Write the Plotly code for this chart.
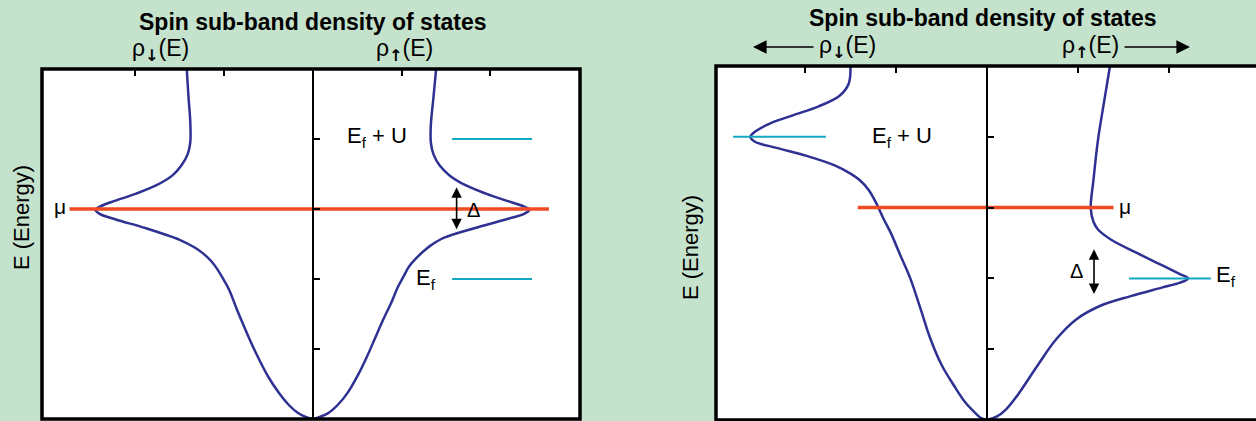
import plotly.graph_objects as go

# ---- data (rho in arbitrary units, E in tick units) ----
# left panel: both peaks sit at mu
L_down_E   = [5.01, 4.60, 4.25, 3.95, 3.78, 3.62, 3.48, 3.34, 3.22, 3.12, 3.05, 2.99, 2.93, 2.85, 2.73, 2.56, 2.45, 2.37, 2.25, 2.13, 1.98, 1.84, 1.55, 1.31, 1.05, 0.84, 0.60, 0.37, 0.20, 0.09, 0.03, 0.0]
L_down_rho = [1.42, 1.40, 1.38, 1.38, 1.41, 1.48, 1.58, 1.76, 1.99, 2.22, 2.37, 2.45, 2.40, 2.22, 1.89, 1.50, 1.33, 1.24, 1.14, 1.07, 1.00, 0.94, 0.85, 0.77, 0.68, 0.60, 0.50, 0.38, 0.27, 0.17, 0.08, 0.0]
L_up_E     = [5.01, 4.60, 4.20, 3.95, 3.78, 3.62, 3.48, 3.34, 3.22, 3.12, 3.05, 2.99, 2.93, 2.86, 2.74, 2.59, 2.48, 2.41, 2.29, 2.17, 2.03, 1.89, 1.65, 1.41, 1.15, 0.89, 0.63, 0.37, 0.20, 0.08, 0.03, 0.0]
L_up_rho   = [1.39, 1.36, 1.33, 1.33, 1.36, 1.43, 1.54, 1.72, 1.95, 2.18, 2.35, 2.44, 2.38, 2.20, 1.86, 1.48, 1.33, 1.26, 1.16, 1.08, 1.02, 0.96, 0.88, 0.79, 0.70, 0.61, 0.51, 0.39, 0.28, 0.17, 0.08, 0.0]

# right panel: spin-down peak at Ef+U, spin-up peak at Ef
R_down_E   = [4.99, 4.75, 4.58, 4.43, 4.30, 4.18, 4.07, 4.00, 3.93, 3.84, 3.73, 3.60, 3.48, 3.39, 3.25, 3.07, 2.85, 2.65, 2.32, 1.99, 1.57, 1.14, 0.78, 0.48, 0.25, 0.10, 0.03, 0.0]
R_down_rho = [1.50, 1.52, 1.62, 1.85, 2.14, 2.40, 2.55, 2.60, 2.55, 2.30, 1.98, 1.68, 1.50, 1.40, 1.30, 1.22, 1.14, 1.06, 0.95, 0.84, 0.73, 0.62, 0.50, 0.36, 0.24, 0.13, 0.07, 0.0]
R_up_E     = [4.99, 4.52, 3.96, 3.39, 2.99, 2.80, 2.69, 2.55, 2.37, 2.17, 2.06, 2.00, 1.94, 1.87, 1.75, 1.61, 1.42, 1.14, 0.76, 0.34, 0.15, 0.05, 0.0]
R_up_rho   = [1.35, 1.29, 1.22, 1.17, 1.14, 1.17, 1.22, 1.36, 1.63, 1.95, 2.12, 2.21, 2.12, 1.92, 1.58, 1.24, 0.98, 0.76, 0.55, 0.33, 0.21, 0.11, 0.0]

# energy levels
L_mu_x, L_mu_E = [-2.74, 2.66], 3.0
L_EfU_x, L_EfU_E = [1.57, 2.47], 4.0
L_Ef_x, L_Ef_E = [1.57, 2.47], 2.0
R_mu_x, R_mu_E = [-1.42, 1.39], 3.0
R_EfU_x, R_EfU_E = [-2.79, -1.77], 4.0
R_Ef_x, R_Ef_E = [1.56, 2.46], 2.0

NAVY = "#2e3192"
RED = "#ef4a24"
CYAN = "#14a7c1"
BG = "#c4e2cc"
FONT = "Liberation Sans, Arial, sans-serif"

W, H = 1256, 421

fig = go.Figure()

def curve(x, y, xa, ya):
    fig.add_trace(go.Scatter(x=x, y=y, mode="lines", xaxis=xa, yaxis=ya,
                             line=dict(color=NAVY, width=2.5, shape="spline", smoothing=1.0),
                             hoverinfo="skip"))

def level(x, e, color, xa, ya, w):
    fig.add_trace(go.Scatter(x=x, y=[e, e], mode="lines", xaxis=xa, yaxis=ya,
                             line=dict(color=color, width=w), hoverinfo="skip"))

curve([-r for r in L_down_rho], L_down_E, "x", "y")
curve(L_up_rho, L_up_E, "x", "y")
curve([-r for r in R_down_rho], R_down_E, "x2", "y2")
curve(R_up_rho, R_up_E, "x2", "y2")

level(L_mu_x, L_mu_E, RED, "x", "y", 3.5)
level(L_EfU_x, L_EfU_E, CYAN, "x", "y", 2)
level(L_Ef_x, L_Ef_E, CYAN, "x", "y", 2)
level(R_mu_x, R_mu_E, RED, "x2", "y2", 3.5)
level(R_EfU_x, R_EfU_E, CYAN, "x2", "y2", 2)
level(R_Ef_x, R_Ef_E, CYAN, "x2", "y2", 2)

xcommon = dict(side="top", ticks="inside", tickvals=[-2, -1, 1, 2], ticklen=7, tickwidth=2,
               tickcolor="black", showticklabels=False, showgrid=False, zeroline=False)
ycommon = dict(range=[0, 5], side="right", ticks="outside", tickvals=[1, 2, 3, 4], ticklen=6,
               tickwidth=2, tickcolor="black", showline=True, linewidth=2, linecolor="black",
               showticklabels=False, showgrid=False, zeroline=False, anchor="free")

fig.update_layout(
    width=W, height=H,
    margin=dict(l=0, r=0, t=0, b=0),
    paper_bgcolor=BG, plot_bgcolor="white",
    showlegend=False,
    font=dict(family=FONT, color="black", size=20),
    xaxis=dict(domain=[42 / W, 580 / W], range=[-3.05, 3.01], anchor="y", **xcommon),
    yaxis=dict(domain=[1 - 419 / H, 1 - 69 / H], position=313 / W, **ycommon),
    xaxis2=dict(domain=[716 / W, 1.0], range=[-2.978, 2.956], anchor="y2", **xcommon),
    yaxis2=dict(domain=[1 - 420 / H, 1 - 66 / H], position=987 / W, **ycommon),
)

# frames
fig.add_shape(type="rect", xref="x domain", yref="y domain", x0=0, x1=1, y0=0, y1=1,
              line=dict(color="black", width=3.5))
fig.add_shape(type="rect", xref="x2 domain", yref="y2 domain", x0=0, x1=1.03, y0=0, y1=1,
              line=dict(color="black", width=3.5))

ann = []
def txt(text, x, y, xref, yref, size=20, xanchor="center", yanchor="middle", **kw):
    ann.append(dict(text=text, x=x, y=y, xref=xref, yref=yref, showarrow=False,
                    xanchor=xanchor, yanchor=yanchor, font=dict(size=size), **kw))

DOWN = "ρ<sub><span style='font-family:DejaVu Sans;font-weight:bold'>↓</span></sub>(E)"
UP = "ρ<sub><span style='font-family:DejaVu Sans;font-weight:bold'>↑</span></sub>(E)"

# titles and axis labels
txt("<b>Spin sub-band density of states</b>", 313 / W, 1 - 22 / H, "paper", "paper", size=23)
txt("<b>Spin sub-band density of states</b>", 983 / W, 1 - 18 / H, "paper", "paper", size=23)
txt(DOWN, 160 / W, 1 - 50 / H, "paper", "paper", size=23)
txt(UP, 404 / W, 1 - 50 / H, "paper", "paper", size=23)
txt(DOWN, 847 / W, 1 - 47 / H, "paper", "paper", size=23)
txt(UP, 1090 / W, 1 - 47 / H, "paper", "paper", size=23)
txt("E (Energy)", 22 / W, 1 - 218 / H, "paper", "paper", size=22, textangle=-90)
txt("E (Energy)", 691 / W, 1 - 248 / H, "paper", "paper", size=22, textangle=-90)

# in-plot labels
txt("μ", -2.85, 3.03, "x", "y", size=21)
txt("E<sub>f</sub> + U", 0.36, 4.03, "x", "y", size=22, xanchor="left")
txt("E<sub>f</sub>", 1.14, 2.0, "x", "y", size=22, xanchor="left")
txt("Δ", 1.81, 2.99, "x", "y", size=20)
txt("μ", 1.52, 3.02, "x2", "y2", size=21)
txt("E<sub>f</sub> + U", -1.29, 4.0, "x2", "y2", size=22, xanchor="left")
txt("E<sub>f</sub>", 2.49, 2.03, "x2", "y2", size=22, xanchor="left")
txt("Δ", 0.98, 2.1, "x2", "y2", size=20)

# delta double arrows
for xr, yr, xv, e0, e1 in [("x", "y", 1.62, 2.69, 3.31), ("x2", "y2", 1.176, 1.76, 2.41)]:
    ann.append(dict(x=xv, y=e1, ax=xv, ay=e0, xref=xr, yref=yr, axref=xr, ayref=yr, text="",
                    showarrow=True, arrowhead=2, arrowside="end+start", arrowsize=1.3,
                    arrowwidth=1.6, arrowcolor="black"))

# direction arrows beside the rho labels (right panel)
ann.append(dict(x=753 / W, y=1 - 47 / H, xref="paper", yref="paper", ax=62, ay=0, text="",
                showarrow=True, arrowhead=2, arrowsize=1.7, arrowwidth=1.6, arrowcolor="black"))
ann.append(dict(x=1190 / W, y=1 - 47 / H, xref="paper", yref="paper", ax=-67, ay=0, text="",
                showarrow=True, arrowhead=2, arrowsize=1.7, arrowwidth=1.6, arrowcolor="black"))

fig.update_layout(annotations=ann)

fig.write_html("out.html", config={"displayModeBar": False},
               post_script="document.body.style.margin='0';")
